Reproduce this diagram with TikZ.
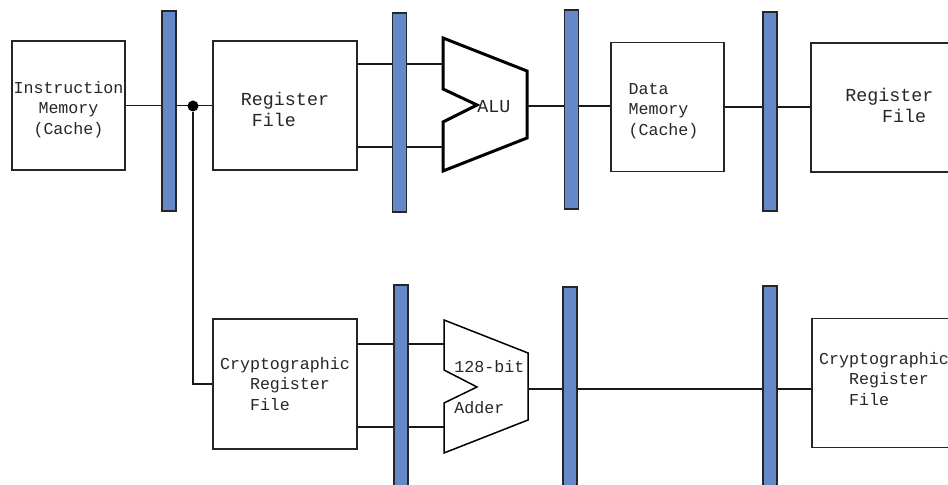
\documentclass[tikz,border=0pt]{standalone}
\usepackage{fontspec}
\setmainfont{Liberation Mono}
\usepackage{xcolor}
\definecolor{latchblue}{RGB}{100,136,200}
\tikzset{
	unit/.style={draw=black!85,line width=0.75pt,inner sep=0pt,minimum height=64.5pt},
	caption/.style={inner sep=0pt,text=black!85,font=\fontsize{8.33}{10.25}\selectfont},
	bigtext/.style={font=\fontsize{9.17}{10.5}\selectfont},
	latch/.style={draw=black!85,line width=0.6pt,fill=latchblue,inner sep=0pt,
		minimum width=7pt},
	wire/.style={draw=black!90,line width=0.6pt},
	tap/.style={circle,fill=black,inner sep=0pt,minimum size=5.5pt},
	lbl/.style={caption,anchor=west}
}

\begin{document}
\begin{tikzpicture}[x=0.5pt,y=-0.5pt]
	\useasboundingbox (0,0) rectangle (948,485);

	% fetch / decode / execute / memory / write-back units
	\node[unit,minimum width=56.5pt] (imem) at (68.5,105.5) {};
	\node[unit,minimum width=72pt] (rf) at (285,105.5) {};
	\node[unit,minimum width=56.5pt] (dmem) at (667.5,107) {};
	\node[unit,minimum width=72pt] (rfwb) at (883,107.5) {};
	\node[unit,minimum width=72pt,minimum height=65pt] (crf) at (285,384) {};
	\node[unit,minimum width=72pt] (crfwb) at (884,383) {};

	\node[caption,align=center] (imem-t) at ([yshift=-2pt]imem.center)
		{Instruction\\Memory\\(Cache)};
	\node[caption,bigtext,align=left] (rf-t) at ([yshift=-2pt]rf.center)
		{Register\\\hspace*{0.6em}File};
	\node[caption,align=left] (dmem-t) at ([xshift=-2pt,yshift=-2pt]dmem.center)
		{Data\\Memory\\(Cache)};
	\node[caption,bigtext,align=left] (rfwb-t) at ([yshift=1pt]rfwb.center)
		{\hspace*{0.7em}Register\\\hspace*{2.7em}File};
	\node[caption,align=left] (crf-t) at (crf.center)
		{Cryptographic\\\hspace*{1.8em}Register\\\hspace*{1.8em}File};
	\node[caption,align=left] (crfwb-t) at ([yshift=2pt]crfwb.center)
		{Cryptographic\\\hspace*{1.8em}Register\\\hspace*{1.8em}File};

	% ALU and adder
	\coordinate (alu-out) at (527,106);
	\coordinate (add-out) at (528,389);
	\draw[line width=1.5pt,line join=miter] (443,38) -- (527,71) -- (527,138) -- (443,171)
		-- (443,122) -- (477,105) -- (443,89) -- cycle;
	\node[lbl,bigtext] (alu) at (477,107) {ALU};
	\draw[line width=0.75pt] (444,320) -- (528,353) -- (528,420) -- (444,453)
		-- (444,403) -- (477,387) -- (444,370) -- cycle;
	\node[lbl] (add-a) at (454,367) {128-bit};
	\node[lbl] (add-b) at (454,408) {Adder};

	% wires
	\draw[wire] (imem.east) -- (rf.west);
	\foreach \y in {64,147}
		\draw[wire] (rf.east |- 0,\y) -- (443,\y);
	\draw[wire] (alu-out) -- (alu-out -| dmem.west);
	\draw[wire] (dmem.east) -- (dmem.east -| rfwb.west);
	\node[tap] (split) at (193,106) {};
	\draw[wire] (split) |- (crf.west);
	\foreach \y in {344,427}
		\draw[wire] (crf.east |- 0,\y) -- (444,\y);
	\draw[wire] (add-out) -- (add-out -| crfwb.west);

	% pipeline registers
	\foreach \x/\y/\h in {169/111/100, 399.5/112.5/99.5, 571.5/109.5/99.5, 770/111.5/99.5,
		401/388/103, 570/389/102, 770/388.5/102.5}
		\node[latch,minimum height=\h pt] at (\x,\y) {};
\end{tikzpicture}
\end{document}
